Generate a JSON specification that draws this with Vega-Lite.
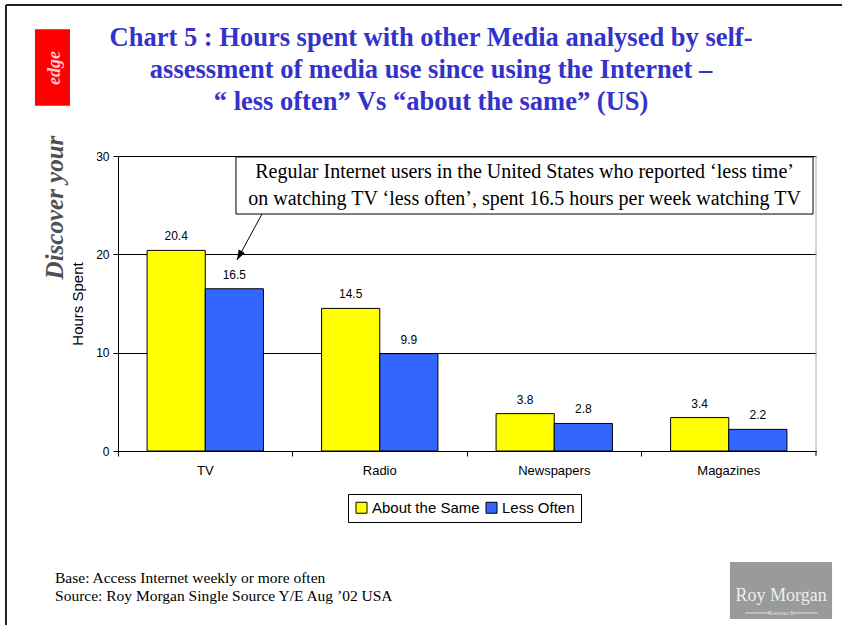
{
  "$schema": "https://vega.github.io/schema/vega-lite/v6.json",
  "width": 698,
  "height": 295,
  "autosize": "none",
  "padding": {"left": 118, "top": 156, "right": 26, "bottom": 174},
  "background": "white",
  "config": {"view": {"stroke": null}},
  "datasets": {
    "bars": [
      {"media": "TV", "group": "About the Same", "hours": 20.4},
      {"media": "TV", "group": "Less Often", "hours": 16.5},
      {"media": "Radio", "group": "About the Same", "hours": 14.5},
      {"media": "Radio", "group": "Less Often", "hours": 9.9},
      {"media": "Newspapers", "group": "About the Same", "hours": 3.8},
      {"media": "Newspapers", "group": "Less Often", "hours": 2.8},
      {"media": "Magazines", "group": "About the Same", "hours": 3.4},
      {"media": "Magazines", "group": "Less Often", "hours": 2.2}
    ],
    "title": [{"x": 1.794, "y": 42.0, "text": "Chart 5 : Hours spent with other Media analysed by self-\nassessment of media use since using the Internet –\n“ less often” Vs “about the same” (US)"}],
    "box": [{"x": 0.676, "x2": 3.983, "y": 29.9, "y2": 24.1}],
    "note": [{"x": 2.33, "y": 28.37, "text": "Regular Internet users in the United States who reported ‘less time’\non watching TV ‘less often’, spent 16.5 hours per week watching TV"}],
    "arrow": [{"x": 0.825, "y": 24.1, "x2": 0.682, "y2": 19.42}],
    "arrowhead": [{"x": 0.682, "y": 19.42}],
    "frame": [
      {"x": -0.642, "x2": 4.149, "y": 45.36, "y2": 45.36},
      {"x": -0.642, "x2": -0.642, "y": 45.36, "y2": -17.7}
    ],
    "plotedge": [{"x": 4, "x2": 4, "y": 0, "y2": 30}],
    "endtick": [{"x": 4, "x2": 4, "y": 0, "y2": -0.5}],
    "footer": [
      {"x": -0.361, "y": -12.9, "text": "Base: Access Internet weekly or more often"},
      {"x": -0.361, "y": -14.75, "text": "Source: Roy Morgan Single Source Y/E Aug ’02 USA"}
    ],
    "logo": [{"x": 3.507, "x2": 4.092, "y": -11.29, "y2": -17.09}],
    "logotext": [{"x": 3.80, "y": -14.75, "text": "Roy Morgan"}],
    "logosub": [{"x": 3.80, "y": -16.47, "text": "Research"}],
    "logorules": [
      {"x": 3.593, "x2": 3.736, "y": -16.47, "y2": -16.47},
      {"x": 3.866, "x2": 4.01, "y": -16.47, "y2": -16.47}
    ],
    "redbox": [{"x": -0.476, "x2": -0.275, "y": 42.9, "y2": 35.1}],
    "edge": [{"x": -0.361, "y": 38.95, "text": "edge"}],
    "discover": [{"x": -0.361, "y": 24.76, "text": "Discover your"}]
  },
  "resolve": {"scale": {"x": "independent", "y": "independent"}, "axis": {"x": "independent", "y": "independent"}},
  "layer": [
    {
      "data": {"name": "bars"},
      "encoding": {
        "x": {
          "field": "media", "type": "nominal",
          "sort": ["TV", "Radio", "Newspapers", "Magazines"],
          "scale": {"paddingInner": 0, "paddingOuter": 0},
          "axis": {"title": null, "bandPosition": 0, "labelAngle": 0, "labelFont": "Liberation Sans", "labelFontSize": 13, "labelColor": "black", "domainColor": "black", "tickColor": "black", "tickSize": 5, "labelPadding": 8, "grid": false}
        },
        "xOffset": {"field": "group", "type": "nominal", "sort": ["About the Same", "Less Often"], "scale": {"paddingInner": 0, "paddingOuter": 0.5}},
        "y": {
          "field": "hours", "type": "quantitative",
          "scale": {"domain": [0, 30], "nice": false},
          "axis": {"values": [0, 10, 20, 30], "grid": true, "gridColor": "black", "gridOpacity": 1, "domainColor": "black", "tickColor": "black", "tickSize": 5, "labelFont": "Liberation Sans", "labelFontSize": 12, "labelColor": "black", "labelPadding": 4, "title": "Hours Spent", "titleFont": "Liberation Sans", "titleFontSize": 15, "titleFontWeight": "normal", "titleColor": "black", "titlePadding": 10}
        }
      },
      "layer": [
        {
          "mark": {"type": "bar", "stroke": "black", "strokeWidth": 1, "opacity": 1},
          "encoding": {
            "color": {
              "field": "group", "type": "nominal",
              "scale": {"domain": ["About the Same", "Less Often"], "range": ["#FFFF00", "#3366FF"]},
              "legend": {"orient": "none", "legendX": 230, "legendY": 338, "direction": "horizontal", "title": null, "symbolType": "square", "symbolSize": 121, "symbolStrokeColor": "black", "symbolStrokeWidth": 1, "symbolOpacity": 1, "labelFont": "Liberation Sans", "labelFontSize": 15, "labelColor": "black", "strokeColor": "black", "fillColor": "white", "padding": 6, "columnPadding": 4, "labelOffset": 3}
            }
          }
        },
        {
          "mark": {"type": "text", "font": "Liberation Sans", "fontSize": 12, "color": "black", "baseline": "alphabetic", "dy": -10},
          "encoding": {"text": {"field": "hours", "type": "quantitative", "format": ".1f"}}
        }
      ]
    },
    {
      "layer": [
        {
          "data": {"name": "title"},
          "mark": {"type": "text", "font": "Liberation Serif", "fontSize": 26.5, "fontWeight": "bold", "color": "#3333CC", "align": "center", "baseline": "middle", "lineHeight": 32, "lineBreak": "\n"},
          "encoding": {
            "x": {"field": "x", "type": "quantitative", "scale": {"domain": [0, 4], "nice": false, "zero": false}, "axis": null},
            "y": {"field": "y", "type": "quantitative", "scale": {"domain": [0, 30], "nice": false, "zero": false}, "axis": null},
            "text": {"field": "text"}
          }
        },
        {
          "data": {"name": "box"},
          "mark": {"type": "rect", "fill": "white", "stroke": "black", "strokeWidth": 1},
          "encoding": {
            "x": {"field": "x", "type": "quantitative", "axis": null},
            "x2": {"field": "x2"},
            "y": {"field": "y", "type": "quantitative", "axis": null},
            "y2": {"field": "y2"}
          }
        },
        {
          "data": {"name": "note"},
          "mark": {"type": "text", "font": "Liberation Serif", "fontSize": 20, "color": "black", "align": "center", "baseline": "middle", "lineHeight": 27, "lineBreak": "\n"},
          "encoding": {
            "x": {"field": "x", "type": "quantitative", "axis": null},
            "y": {"field": "y", "type": "quantitative", "axis": null},
            "text": {"field": "text"}
          }
        },
        {
          "data": {"name": "arrow"},
          "mark": {"type": "rule", "color": "black", "strokeWidth": 1},
          "encoding": {
            "x": {"field": "x", "type": "quantitative", "axis": null},
            "x2": {"field": "x2"},
            "y": {"field": "y", "type": "quantitative", "axis": null},
            "y2": {"field": "y2"}
          }
        },
        {
          "data": {"name": "arrowhead"},
          "mark": {"type": "point", "shape": "M0,0L0.35,1L-0.35,1Z", "size": 400, "angle": 208.5, "filled": true, "color": "black", "opacity": 1},
          "encoding": {
            "x": {"field": "x", "type": "quantitative", "axis": null},
            "y": {"field": "y", "type": "quantitative", "axis": null}
          }
        },
        {
          "data": {"name": "frame"},
          "mark": {"type": "rule", "color": "#222222", "strokeWidth": 2},
          "encoding": {
            "x": {"field": "x", "type": "quantitative", "axis": null},
            "x2": {"field": "x2"},
            "y": {"field": "y", "type": "quantitative", "axis": null},
            "y2": {"field": "y2"}
          }
        },
        {
          "data": {"name": "plotedge"},
          "mark": {"type": "rule", "color": "#AAAAAA", "strokeWidth": 1},
          "encoding": {
            "x": {"field": "x", "type": "quantitative", "axis": null},
            "x2": {"field": "x2"},
            "y": {"field": "y", "type": "quantitative", "axis": null},
            "y2": {"field": "y2"}
          }
        },
        {
          "data": {"name": "endtick"},
          "mark": {"type": "rule", "color": "black", "strokeWidth": 1},
          "encoding": {
            "x": {"field": "x", "type": "quantitative", "axis": null},
            "x2": {"field": "x2"},
            "y": {"field": "y", "type": "quantitative", "axis": null},
            "y2": {"field": "y2"}
          }
        },
        {
          "data": {"name": "footer"},
          "mark": {"type": "text", "font": "Liberation Serif", "fontSize": 15.5, "color": "black", "align": "left", "baseline": "middle"},
          "encoding": {
            "x": {"field": "x", "type": "quantitative", "axis": null},
            "y": {"field": "y", "type": "quantitative", "axis": null},
            "text": {"field": "text"}
          }
        },
        {
          "data": {"name": "logo"},
          "mark": {"type": "rect", "fill": "#9A9A9A"},
          "encoding": {
            "x": {"field": "x", "type": "quantitative", "axis": null},
            "x2": {"field": "x2"},
            "y": {"field": "y", "type": "quantitative", "axis": null},
            "y2": {"field": "y2"}
          }
        },
        {
          "data": {"name": "logotext"},
          "mark": {"type": "text", "font": "Liberation Serif", "fontSize": 18, "color": "#EEEEEE", "align": "center", "baseline": "middle"},
          "encoding": {
            "x": {"field": "x", "type": "quantitative", "axis": null},
            "y": {"field": "y", "type": "quantitative", "axis": null},
            "text": {"field": "text"}
          }
        },
        {
          "data": {"name": "logosub"},
          "mark": {"type": "text", "font": "Liberation Serif", "fontSize": 7, "color": "#E0E0E0", "align": "center", "baseline": "middle"},
          "encoding": {
            "x": {"field": "x", "type": "quantitative", "axis": null},
            "y": {"field": "y", "type": "quantitative", "axis": null},
            "text": {"field": "text"}
          }
        },
        {
          "data": {"name": "logorules"},
          "mark": {"type": "rule", "color": "#E0E0E0", "strokeWidth": 1},
          "encoding": {
            "x": {"field": "x", "type": "quantitative", "axis": null},
            "x2": {"field": "x2"},
            "y": {"field": "y", "type": "quantitative", "axis": null},
            "y2": {"field": "y2"}
          }
        },
        {
          "data": {"name": "redbox"},
          "mark": {"type": "rect", "fill": "#FF0000"},
          "encoding": {
            "x": {"field": "x", "type": "quantitative", "axis": null},
            "x2": {"field": "x2"},
            "y": {"field": "y", "type": "quantitative", "axis": null},
            "y2": {"field": "y2"}
          }
        },
        {
          "data": {"name": "edge"},
          "mark": {"type": "text", "font": "Liberation Serif", "fontSize": 18, "fontStyle": "italic", "fontWeight": "bold", "color": "#FFC8C8", "align": "center", "baseline": "middle", "angle": 270},
          "encoding": {
            "x": {"field": "x", "type": "quantitative", "axis": null},
            "y": {"field": "y", "type": "quantitative", "axis": null},
            "text": {"field": "text"}
          }
        },
        {
          "data": {"name": "discover"},
          "mark": {"type": "text", "font": "Liberation Serif", "fontSize": 25, "fontStyle": "italic", "fontWeight": "bold", "color": "#505050", "align": "center", "baseline": "middle", "angle": 270},
          "encoding": {
            "x": {"field": "x", "type": "quantitative", "axis": null},
            "y": {"field": "y", "type": "quantitative", "axis": null},
            "text": {"field": "text"}
          }
        }
      ]
    }
  ]
}
